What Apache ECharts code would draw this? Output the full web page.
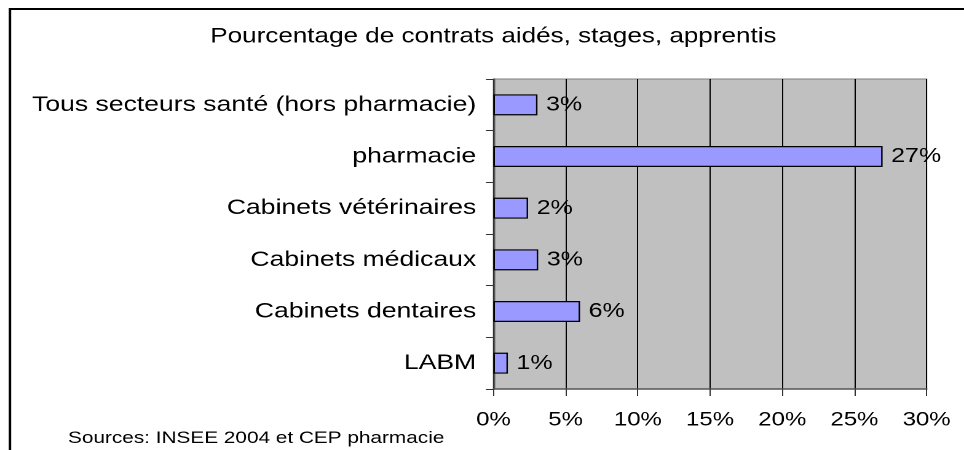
<!DOCTYPE html>
<html>
<head>
<meta charset="utf-8">
<script src="https://cdn.jsdelivr.net/npm/echarts@6/dist/echarts.min.js"></script>
<style>
html, body { margin: 0; padding: 0; background: #fff; overflow: hidden; }
#wrap { width: 964px; height: 450px; overflow: hidden; position: relative; }
#chart { width: 784px; height: 450px; transform: scaleX(1.2296); transform-origin: 0 0; position: absolute; left: 0; top: 0; }
</style>
</head>
<body>
<div id="wrap"><div id="chart"></div></div>
<script>
var titleText = 'Pourcentage de contrats aidés, stages, apprentis';
var sourceText = 'Sources: INSEE 2004 et CEP pharmacie';
var categories = ['Tous secteurs santé (hors pharmacie)', 'pharmacie', 'Cabinets vétérinaires', 'Cabinets médicaux', 'Cabinets dentaires', 'LABM'];
var values = [3.05, 26.95, 2.4, 3.1, 6.0, 1.0];
var xTicks = { min: 0, max: 30, interval: 5 };

var FONT = '"Liberation Sans", Arial, sans-serif';
var chart = echarts.init(document.getElementById('chart'), null, { renderer: 'canvas', devicePixelRatio: 2 });
chart.setOption({
  animation: false,
  backgroundColor: '#ffffff',
  title: {
    text: titleText,
    left: 171,
    top: 26,
    padding: 0,
    textStyle: { fontFamily: FONT, fontSize: 21.2, fontWeight: 'normal', color: '#000' }
  },
  grid: {
    left: 401.3, right: 30.4, top: 79, bottom: 61,
    show: true, backgroundColor: '#c0c0c0', borderColor: '#808080', borderWidth: 1,
    containLabel: false
  },
  xAxis: {
    type: 'value', min: xTicks.min, max: xTicks.max, interval: xTicks.interval,
    axisLine: { show: true, lineStyle: { color: '#555', width: 1.5 } },
    axisTick: { show: true, length: 7, lineStyle: { color: '#333' } },
    splitLine: { show: true, lineStyle: { color: '#000', width: 1 } },
    axisLabel: { formatter: '{value}%', margin: 21, fontFamily: FONT, fontSize: 19.5, color: '#000' }
  },
  yAxis: {
    type: 'category', data: categories, inverse: true,
    axisLine: { show: true, lineStyle: { color: '#555', width: 1.5 } },
    axisTick: { show: true, length: 6, lineStyle: { color: '#333' } },
    axisLabel: { margin: 14, fontFamily: FONT, fontSize: 21.6, color: '#000' }
  },
  series: [{
    type: 'bar', data: values, barWidth: 21,
    itemStyle: { color: '#9999ff', borderColor: '#000', borderWidth: 1.2 },
    label: {
      show: true, position: 'right', distance: 7,
      formatter: function (p) { return Math.round(p.value) + '%'; },
      fontFamily: FONT, fontSize: 20.3, color: '#000'
    }
  }],
  graphic: [
    { type: 'rect', shape: { x: 8.1, y: 9, width: 1000, height: 600 }, style: { fill: 'none', stroke: '#000', lineWidth: 2 }, silent: true, z: 100 },
    { type: 'text', left: 55.3, top: 430, style: { text: sourceText, font: '16.9px ' + FONT, fill: '#000' } }
  ]
});
</script>
</body>
</html>
